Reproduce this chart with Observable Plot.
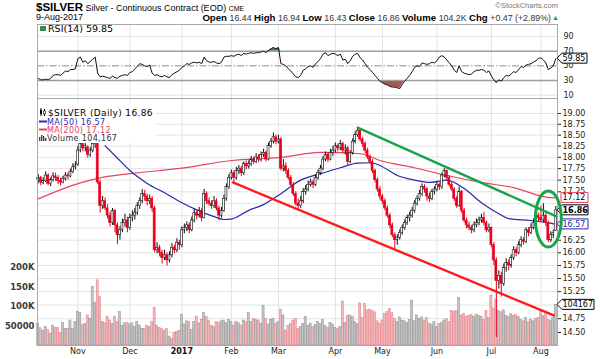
<!DOCTYPE html>
<html><head><meta charset="utf-8">
<script src="https://cdn.jsdelivr.net/npm/d3@7"></script>
<script src="https://cdn.jsdelivr.net/npm/@observablehq/plot@0.6"></script>
<style>
body{margin:0;background:#fff;}
#wrap{position:relative;width:600px;height:359px;overflow:hidden;background:#fff;}
#wrap > svg{position:absolute;left:0;display:block;}
</style></head><body><div id="wrap"></div>
<script>
// ---------- data ----------
const startDate = "2016-10-10", endDate = "2017-08-09";
const holidays = ["2016-11-24","2016-12-26","2017-01-02","2017-01-16","2017-02-20","2017-04-14","2017-05-29","2017-07-04"];
const monthLabels = ["Nov","Dec","2017","Feb","Mar","Apr","May","Jun","Jul","Aug"];
// daily [open, high, low, close]
const ohlc = [
[17.50,17.62,17.42,17.55],[17.55,17.58,17.38,17.45],[17.44,17.55,17.40,17.48],[17.48,17.68,17.45,17.60],[17.60,17.64,17.38,17.42],[17.42,17.55,17.36,17.50],[17.50,17.66,17.46,17.58],[17.58,17.65,17.48,17.55],[17.55,17.60,17.40,17.48],[17.48,17.54,17.38,17.45],
[17.45,17.58,17.42,17.52],[17.52,17.66,17.48,17.60],[17.60,17.66,17.50,17.58],[17.58,17.74,17.55,17.68],[17.68,17.86,17.64,17.78],[17.78,17.90,17.72,17.82],[17.84,18.24,17.80,18.15],[18.15,18.38,18.10,18.30],[18.30,18.36,18.12,18.20],[18.20,18.32,18.12,18.25],
[18.22,18.26,17.98,18.05],[18.05,18.22,18.00,18.15],[18.15,18.50,18.10,18.30],[18.30,18.45,18.20,18.32],[18.32,18.36,17.40,17.45],[17.45,17.50,16.80,16.95],[16.95,17.15,16.88,17.05],[17.05,17.12,16.85,16.90],[16.90,16.98,16.68,16.75],[16.75,16.82,16.52,16.60],
[16.60,16.90,16.55,16.85],[16.85,16.88,16.40,16.55],[16.55,16.60,16.16,16.35],[16.35,16.52,16.25,16.45],[16.45,16.68,16.40,16.60],[16.60,16.78,16.52,16.65],[16.65,16.72,16.40,16.50],[16.50,16.78,16.45,16.70],[16.70,16.85,16.62,16.75],[16.75,16.90,16.66,16.80],
[16.80,17.02,16.75,16.95],[16.95,17.12,16.88,17.05],[17.05,17.30,17.00,17.20],[17.20,17.28,17.05,17.15],[17.15,17.20,16.95,17.05],[17.05,17.18,16.98,17.10],[17.10,17.15,16.82,16.90],[16.90,16.95,16.00,16.05],[16.05,16.20,15.98,16.10],[16.10,16.15,15.92,16.00],
[16.00,16.05,15.78,15.90],[15.90,16.05,15.85,15.95],[15.95,16.00,15.74,15.85],[15.85,16.02,15.80,15.95],[15.95,16.18,15.90,16.10],[16.10,16.15,15.98,16.05],[16.05,16.28,16.00,16.20],[16.20,16.25,16.05,16.15],[16.15,16.52,16.10,16.45],[16.45,16.58,16.38,16.50],
[16.50,16.62,16.42,16.55],[16.55,16.60,16.38,16.45],[16.45,16.72,16.42,16.65],[16.65,16.88,16.60,16.80],[16.80,16.85,16.66,16.75],[16.75,16.92,16.70,16.85],[16.85,16.90,16.62,16.70],[16.70,17.30,16.68,17.20],[17.20,17.25,16.98,17.05],[17.05,17.12,16.95,17.00],
[17.00,17.06,16.88,16.95],[16.95,17.15,16.90,17.05],[17.05,17.10,16.85,16.90],[16.90,16.95,16.65,16.75],[16.75,16.92,16.70,16.85],[16.85,17.18,16.82,17.10],[17.10,17.42,17.05,17.35],[17.35,17.62,17.30,17.55],[17.55,17.72,17.50,17.65],[17.65,17.70,17.45,17.55],
[17.55,17.78,17.50,17.70],[17.70,17.82,17.62,17.75],[17.75,17.80,17.58,17.65],[17.65,17.90,17.60,17.85],[17.85,17.92,17.72,17.80],[17.80,17.92,17.74,17.85],[17.85,18.02,17.80,17.95],[17.95,18.00,17.84,17.90],[17.90,18.08,17.86,18.00],[18.00,18.06,17.88,17.95],
[17.95,18.12,17.90,18.05],[18.05,18.18,18.00,18.10],[18.10,18.14,17.90,17.95],[17.95,18.32,17.92,18.25],[18.25,18.42,18.20,18.35],[18.35,18.55,18.30,18.45],[18.45,18.50,18.28,18.35],[18.35,18.50,18.30,18.40],[18.40,18.45,17.70,17.75],[17.75,17.95,17.68,17.80],
[17.80,17.88,17.62,17.70],[17.70,17.75,17.50,17.55],[17.55,17.60,17.35,17.40],[17.40,17.45,17.15,17.20],[17.20,17.25,16.95,17.00],[17.00,17.10,16.86,16.95],[16.95,17.15,16.90,17.05],[17.05,17.32,17.00,17.25],[17.25,17.38,17.18,17.30],[17.30,17.48,17.25,17.40],
[17.40,17.52,17.35,17.45],[17.45,17.50,17.32,17.40],[17.40,17.62,17.36,17.55],[17.55,17.72,17.50,17.65],[17.65,17.82,17.60,17.75],[17.75,18.02,17.70,17.95],[17.95,18.12,17.90,18.05],[18.05,18.10,17.88,17.95],[17.95,18.18,17.92,18.10],[18.10,18.24,18.02,18.15],
[18.15,18.32,18.10,18.25],[18.25,18.30,18.12,18.20],[18.20,18.38,18.15,18.30],[18.30,18.34,18.08,18.15],[18.15,18.28,18.05,18.20],[18.20,18.24,17.80,17.90],[17.90,18.15,17.86,18.10],[18.10,18.42,18.05,18.35],[18.35,18.58,18.30,18.50],[18.50,18.68,18.45,18.60],
[18.60,18.62,18.35,18.40],[18.40,18.45,18.22,18.30],[18.30,18.35,18.08,18.15],[18.15,18.20,17.95,18.00],[18.00,18.05,17.84,17.90],[17.90,17.95,17.64,17.70],[17.70,17.74,17.44,17.50],[17.50,17.55,17.24,17.30],[17.30,17.36,17.08,17.15],[17.15,17.20,16.98,17.05],
[17.05,17.10,16.85,16.90],[16.90,16.95,16.70,16.75],[16.75,16.80,16.48,16.55],[16.55,16.60,16.30,16.35],[16.35,16.40,16.07,16.25],[16.25,16.36,16.15,16.30],[16.30,16.46,16.25,16.40],[16.40,16.56,16.35,16.50],[16.50,16.66,16.45,16.60],[16.60,16.76,16.55,16.70],
[16.70,16.82,16.62,16.75],[16.75,16.92,16.70,16.85],[16.85,17.06,16.80,17.00],[17.00,17.16,16.95,17.10],[17.10,17.28,17.05,17.20],[17.20,17.42,17.15,17.35],[17.35,17.40,17.22,17.30],[17.30,17.34,17.05,17.15],[17.15,17.22,17.02,17.10],[17.10,17.30,17.06,17.25],
[17.25,17.36,17.18,17.30],[17.30,17.46,17.25,17.40],[17.40,17.44,17.28,17.35],[17.35,17.65,17.30,17.60],[17.60,17.75,17.55,17.70],[17.70,17.72,17.48,17.55],[17.55,17.60,17.35,17.40],[17.40,17.45,17.25,17.30],[17.30,17.34,17.05,17.10],[17.10,17.15,16.90,16.95],
[16.95,17.35,16.92,17.25],[17.25,17.28,16.80,16.85],[16.85,16.90,16.60,16.65],[16.65,16.70,16.48,16.55],[16.55,16.62,16.44,16.50],[16.50,16.55,16.38,16.45],[16.45,16.62,16.40,16.55],[16.55,16.68,16.50,16.60],[16.60,16.72,16.54,16.65],[16.65,16.78,16.60,16.70],
[16.70,16.82,16.55,16.60],[16.60,16.64,16.40,16.45],[16.45,16.58,16.40,16.50],[16.50,16.52,16.10,16.15],[16.15,16.20,15.75,15.85],[15.85,15.90,14.41,15.45],[15.45,15.65,15.30,15.55],[15.55,15.62,15.15,15.40],[15.40,15.78,15.35,15.70],[15.70,15.88,15.62,15.80],
[15.80,15.86,15.65,15.75],[15.75,15.96,15.70,15.90],[15.90,16.12,15.85,16.05],[16.05,16.10,15.92,16.00],[16.00,16.22,15.96,16.15],[16.15,16.32,16.10,16.25],[16.25,16.30,16.15,16.22],[16.22,16.50,16.18,16.45],[16.45,16.50,16.32,16.40],[16.40,16.58,16.36,16.50],
[16.50,16.68,16.46,16.60],[16.60,16.82,16.55,16.75],[16.75,16.80,16.62,16.70],[16.70,16.95,16.62,16.65],[16.65,17.00,16.60,16.75],[16.75,16.80,16.52,16.60],[16.60,16.64,16.20,16.25],[16.25,16.42,16.20,16.35],[16.35,16.46,16.28,16.39],[16.44,16.94,16.43,16.86]
];
// daily volume, thousands of contracts
const volumeK = [
56,44,38,47,40,30,51,45,45,32, 58,43,43,64,43,60,87,83,53,55,
77,68,150,110,167,124,60,57,74,64, 56,74,60,86,51,57,57,54,57,47,
60,51,43,43,51,47,60,97,51,45, 42,38,42,23,17,32,35,38,78,54,
62,61,40,60,74,57,66,83,73,64, 51,47,60,57,62,64,57,66,60,51,
60,57,51,64,60,83,60,68,66,64, 56,102,68,54,66,68,56,60,92,77,
38,51,56,64,68,43,47,55,73,50, 56,47,52,60,55,66,50,45,58,54,
45,43,47,113,58,75,77,73,60,55, 108,70,107,90,92,88,85,62,56,64,
81,86,94,83,68,60,72,64,62,58, 66,115,62,77,68,72,64,70,56,52,
60,47,55,58,64,68,60,88,86,88, 122,77,81,73,75,78,73,79,76,74,
66,88,70,128,95,118,88,85,90,76, 73,80,75,78,73,66,62,70,60,66,
62,68,70,86,75,80,66,62,70,104.167
];
// RSI(14)
const rsi = [
33,31,31,32,31,33,37,38,38,37, 40,43,42,45,45,46,60,62,55,57,
53,56,59,62,40,35,36,35,34,33, 36,34,33,36,37,38,37,41,42,46,
49,53,52,50,49,51,40,37,38,36, 35,37,35,34,38,40,42,44,48,50,
53,52,54,55,54,55,53,62,57,55, 55,56,54,53,55,62,63,63,64,63,
65,66,64,67,66,67,68,67,68,68, 69,70,68,71,73,75,73,75,53,52,
50,46,43,39,35,34,37,44,46,49, 50,48,53,56,60,66,68,64,66,67,
66,64,66,58,59,53,57,63,66,67, 61,58,53,48,45,41,37,33,29,27,
25,24,22,21,21,20,19,25,29,33, 37,42,48,50,49,54,53,52,53,55,
54,57,62,64,62,58,54,50,44,41, 50,42,40,39,38,39,42,44,44,45,
44,41,43,36,31,27,31,29,34,37, 36,39,42,41,45,49,48,51,52,53,
55,57,60,61,58,54,45,47,50,59.85
];
// moving averages: [trading-day index, value]
const ma50 = [[27,18.26],[32,17.98],[37,17.71],[44,17.43],[51,17.23],[58,17.02],[64,16.87],[71,16.73],[75,16.67],[78,16.68],[85,16.86],[91,16.98],[98,17.21],[106,17.5],[114,17.64],[122,17.77],[129,17.87],[134,17.88],[138,17.82],[145,17.6],[152,17.5],[158,17.45],[165,17.5],[172,17.32],[179,17.02],[186,16.79],[190,16.69],[199,16.65],[206,16.6],[209,16.57]];
const ma200 = [[0,17.10],[17,17.44],[24,17.54],[37,17.64],[58,17.76],[78,17.93],[98,18.0],[114,18.11],[130,18.08],[138,17.93],[152,17.77],[165,17.6],[179,17.45],[192,17.34],[206,17.13],[209,17.12]];
// hand-drawn annotations
const trendRed = [[78.6,17.45],[208.2,14.81]];
const trendGreen = [[129,18.67],[209.5,16.73]];
const circleCenter = [206.2,16.67];
// axes
const priceTicks = [14.5,14.75,15,15.25,15.5,15.75,16,16.25,16.5,16.75,17,17.25,17.5,17.75,18,18.25,18.5,18.75,19];
const priceTickLabelsHidden = [15,16.5,16.75,17]; // covered by value tags in the picture
const rsiTicks = [10,30,50,70,90];
const volTicks = [50000,100000,150000,200000];
const volTickLabels = ["50000","100K","150K","200K"];

// ---------- derived tables ----------
const days = [];
for (let d = new Date(startDate + "T12:00:00Z"); d <= new Date(endDate + "T12:00:00Z"); d.setUTCDate(d.getUTCDate() + 1)) {
  const wd = d.getUTCDay(), s = d.toISOString().slice(0, 10);
  if (wd === 0 || wd === 6 || holidays.includes(s)) continue;
  days.push(s);
}
const monthTicks = [];
days.forEach((s, i) => { if (i > 0 && s.slice(5, 7) !== days[i - 1].slice(5, 7)) monthTicks.push({i, label: monthLabels[monthTicks.length]}); });
const monthStarts = monthTicks.map(d => d.i);

const RED = "#e8001d";
const bars = ohlc.map(([o, h, l, c], i) => {
  const prev = i ? ohlc[i - 1][3] : o;
  const down = c < prev;
  const col = down ? RED : "#111";
  return {i, o, h, l, c, v: volumeK[i] * 1000, down, col, fill: c < o ? col : "#fff"};
});
const rsiData = rsi.map((r, i) => ({i, r}));

const mL = 37, mR = 43;
const xDomain = [-0.3, 209.7];
const yDomain = [14.27, 19.355];
const FONT = "DejaVu Sans";
const wrap = d3.select("#wrap");

// ---------- header ----------
const hdr = wrap.append("svg").attr("width", 600).attr("height", 24).style("top", "0px")
  .attr("font-family", "Liberation Sans, Arial, sans-serif");
const t1 = hdr.append("text").attr("x", 36).attr("y", 10.5).attr("fill", "#000");
t1.append("tspan").attr("font-size", 11.5).attr("font-weight", "bold").text("$SILVER");
t1.append("tspan").attr("font-size", 9).text(" Silver - Continuous Contract (EOD) ");
t1.append("tspan").attr("font-size", 7).text("CME");
hdr.append("text").attr("x", 36).attr("y", 20).attr("font-size", 9).text("9-Aug-2017");
const t2 = hdr.append("text").attr("x", 551).attr("y", 20.5).attr("text-anchor", "end").attr("fill", "#222");
[["Open ", 1], ["16.44 ", 0], ["High ", 1], ["16.94 ", 0], ["Low ", 1], ["16.43 ", 0], ["Close ", 1], ["16.86 ", 0], ["Volume ", 1], ["104.2K ", 0], ["Chg ", 1], ["+0.47 (+2.89%)", 0]]
  .forEach(([s, b]) => t2.append("tspan").attr("font-weight", b ? "bold" : "normal").attr("font-size", b ? 9.6 : 8.8).attr("fill", b ? "#000" : "#333").text(s));
hdr.append("text").attr("x", 552).attr("y", 20).attr("font-size", 7).attr("fill", "#1a9a3a").text("▲");
hdr.append("text").attr("x", 558).attr("y", 8).attr("font-size", 7.5).attr("text-anchor", "end").attr("fill", "#777").text("©StockCharts.com");

// ---------- RSI panel ----------
const rsiPlot = Plot.plot({
  width: 600, height: 74, marginTop: 0, marginBottom: 0, marginLeft: mL, marginRight: mR,
  style: {background: "transparent", fontFamily: FONT, fontSize: "8px", overflow: "visible"},
  x: {domain: xDomain, axis: null},
  y: {domain: [5.5, 106.4]},
  marks: [
    Plot.ruleX(monthStarts, {stroke: "#e3e3e3"}),
    Plot.ruleY([10, 90], {stroke: "#e3e3e3"}),
    Plot.areaY(rsiData, {x: "i", y1: 70, y2: d => Math.max(d.r, 70), fill: "#3f8c4a"}),
    Plot.areaY(rsiData, {x: "i", y1: d => Math.min(d.r, 30), y2: 30, fill: "#a8564f"}),
    Plot.ruleY([70, 30], {stroke: "#9c9c9c", strokeWidth: 1.4}),
    Plot.ruleY([50], {stroke: "#8a8a8a", strokeDasharray: "7,2,1.5,2"}),
    Plot.line(rsiData, {x: "i", y: "r", stroke: "#111", strokeWidth: 1}),
    Plot.axisY(rsiTicks, {anchor: "right", tickSize: 0, tickPadding: 6, fontSize: 8, color: "#222", label: null}),
    Plot.frame({stroke: "#a8a8a8"})
  ]
});
d3.select(rsiPlot).style("top", "24px");
wrap.node().appendChild(rsiPlot);

// ---------- main panel: grid layer ----------
const common = {width: 600, height: 261, marginTop: 0, marginBottom: 14, marginLeft: mL, marginRight: mR};
const gridPlot = Plot.plot({
  ...common,
  style: {background: "#fff"},
  x: {domain: xDomain, axis: null},
  y: {type: "log", domain: yDomain, axis: null},
  marks: [
    Plot.ruleY(priceTicks, {stroke: "#e3e3e3"}),
    Plot.ruleX(monthStarts, {stroke: "#e3e3e3"})
  ]
});
d3.select(gridPlot).style("top", "98px");
wrap.node().appendChild(gridPlot);

// ---------- main panel: volume layer ----------
const volPlot = Plot.plot({
  ...common,
  style: {background: "transparent", fontFamily: FONT, fontSize: "8px", overflow: "visible"},
  color: {type: "identity"},
  x: {domain: xDomain, axis: null},
  y: {domain: [0, 633000]},
  marks: [
    Plot.rectY(bars, {x1: d => d.i - 0.42, x2: d => d.i + 0.42, y: "v",
      fill: d => d.down ? "#f4b6b9" : "#c4c4c4", stroke: d => d.down ? "#df7e85" : "#8e8e8e", strokeWidth: 0.5}),
    Plot.axisY(volTicks, {anchor: "left", tickSize: 0, tickPadding: 3, fontSize: 8.5, fontWeight: "bold", color: "#3a3a3a", label: null,
      tickFormat: d => volTickLabels[volTicks.indexOf(d)]})
  ]
});
d3.select(volPlot).style("top", "98px");
wrap.node().appendChild(volPlot);

// ---------- main panel: price layer ----------
const pricePlot = Plot.plot({
  ...common,
  style: {background: "transparent", fontFamily: FONT, fontSize: "8px", overflow: "visible"},
  color: {type: "identity"},
  x: {domain: xDomain, axis: null},
  y: {type: "log", domain: yDomain},
  marks: [
    Plot.line(ma200, {x: d => d[0], y: d => d[1], stroke: "#e8435c", strokeWidth: 1.2, curve: "monotone-x"}),
    Plot.line(ma50, {x: d => d[0], y: d => d[1], stroke: "#2a2ab0", strokeWidth: 1.2, curve: "monotone-x"}),
    Plot.ruleX(bars, {x: "i", y1: "l", y2: "h", stroke: d => d.col, strokeWidth: 1}),
    Plot.rect(bars, {x1: d => d.i - 0.4, x2: d => d.i + 0.4, y1: "o", y2: "c", fill: d => d.fill, stroke: d => d.col, strokeWidth: 0.6}),
    Plot.line(trendRed, {x: d => d[0], y: d => d[1], stroke: "#ff1a1a", strokeWidth: 2.4}),
    Plot.line(trendGreen, {x: d => d[0], y: d => d[1], stroke: "#1ba34b", strokeWidth: 2.4}),
    Plot.axisY(priceTicks.filter(t => !priceTickLabelsHidden.includes(t)), {anchor: "right", tickSize: 3, tickPadding: 2, fontSize: 8, color: "#222", label: null, tickFormat: d => d.toFixed(2)}),
    Plot.text(monthTicks.filter(d => d.label !== "2017"), {x: "i", text: "label", frameAnchor: "bottom", dy: 8, fontSize: 8, fill: "#222"}),
    Plot.text(monthTicks.filter(d => d.label === "2017"), {x: "i", text: "label", frameAnchor: "bottom", dy: 8, fontSize: 8, fontWeight: "bold", fill: "#111"}),
    Plot.frame({stroke: "#a8a8a8"})
  ]
});
d3.select(pricePlot).style("top", "98px");
wrap.node().appendChild(pricePlot);

// ---------- legend, value tags, annotation circle ----------
function tag(svgEl, y, label, {stroke = "#000", color = "#000", arrow = true, w = 26, weight = "normal"} = {}) {
  const x0 = 557, h = 10;
  const g = d3.select(svgEl).append("g").attr("text-anchor", "start");
  const d = arrow
    ? `M${x0},${y} L${x0 + 5},${y - h / 2} H${x0 + 5 + w} V${y + h / 2} H${x0 + 5} Z`
    : `M${x0 + 4},${y - h / 2} H${x0 + 5 + w} V${y + h / 2} H${x0 + 4} Z`;
  g.append("path").attr("d", d).attr("fill", "#fff").attr("stroke", stroke).attr("stroke-width", 1);
  g.append("text").attr("x", x0 + 5.5).attr("y", y).attr("dy", "0.36em").attr("font-size", 8).attr("text-anchor", "start")
    .attr("font-family", FONT).attr("font-weight", weight).attr("fill", color).text(label);
}
const xs = pricePlot.scale("x"), ys = pricePlot.scale("y"), vs = volPlot.scale("y"), rs = rsiPlot.scale("y");
const last = bars[bars.length - 1];
tag(pricePlot, ys.apply(ma200[ma200.length - 1][1]), ma200[ma200.length - 1][1].toFixed(2), {stroke: "#e8435c", arrow: false});
tag(pricePlot, ys.apply(last.c), last.c.toFixed(2), {weight: "bold"});
tag(pricePlot, ys.apply(ma50[ma50.length - 1][1]), ma50[ma50.length - 1][1].toFixed(2), {stroke: "#2a2ab0", color: "#2a2ab0"});
tag(pricePlot, vs.apply(last.v), String(Math.round(last.v)), {w: 32});
tag(rsiPlot, rs.apply(rsi[rsi.length - 1]), rsi[rsi.length - 1].toFixed(2), {w: 25});

d3.select(pricePlot).append("ellipse")
  .attr("cx", xs.apply(circleCenter[0])).attr("cy", ys.apply(circleCenter[1]))
  .attr("rx", 13).attr("ry", 28).attr("fill", "none").attr("stroke", "#1ba34b").attr("stroke-width", 3);

// main legend
const lg = d3.select(pricePlot).append("g").attr("font-family", FONT).attr("text-anchor", "start");
lg.append("rect").attr("x", 38).attr("y", 4).attr("width", 118).attr("height", 41).attr("fill", "#fff");
lg.append("line").attr("x1", 41).attr("x2", 41).attr("y1", 10).attr("y2", 18).attr("stroke", "#000");
lg.append("rect").attr("x", 40).attr("y", 12).attr("width", 2).attr("height", 4).attr("fill", "#000");
lg.append("line").attr("x1", 44.5).attr("x2", 44.5).attr("y1", 11).attr("y2", 18).attr("stroke", "#000");
lg.append("rect").attr("x", 43.5).attr("y", 13).attr("width", 2).attr("height", 3).attr("fill", "#fff").attr("stroke", "#000").attr("stroke-width", 0.6);
lg.append("text").attr("x", 48).attr("y", 17.5).attr("font-size", 9).attr("letter-spacing", 0.35).attr("fill", "#000").text("$SILVER (Daily) " + last.c.toFixed(2));
lg.append("line").attr("x1", 39).attr("x2", 47).attr("y1", 23.5).attr("y2", 23.5).attr("stroke", "#2a2ab0").attr("stroke-width", 2);
lg.append("text").attr("x", 47).attr("y", 27).attr("font-size", 8).attr("letter-spacing", 0.35).attr("fill", "#2a2ab0").text("MA(50) " + ma50[ma50.length - 1][1].toFixed(2));
lg.append("line").attr("x1", 39).attr("x2", 47).attr("y1", 31.5).attr("y2", 31.5).attr("stroke", "#e8435c").attr("stroke-width", 2);
lg.append("text").attr("x", 47).attr("y", 35).attr("font-size", 8).attr("letter-spacing", 0.35).attr("fill", "#e8435c").text("MA(200) " + ma200[ma200.length - 1][1].toFixed(2));
[[39, 4], [41, 6], [43, 5], [45, 3]].forEach(([x, h]) => lg.append("rect").attr("x", x).attr("y", 43 - h).attr("width", 1.4).attr("height", h).attr("fill", "#444"));
lg.append("text").attr("x", 47).attr("y", 43).attr("font-size", 8).attr("letter-spacing", 0.35).attr("fill", "#333").text("Volume " + d3.format(",")(Math.round(last.v)));

// RSI legend
const rl = d3.select(rsiPlot).append("g").attr("font-family", FONT).attr("text-anchor", "start");
rl.append("rect").attr("x", 40).attr("y", 2).attr("width", 6).attr("height", 5).attr("fill", "#3f8c4a");
rl.append("text").attr("x", 48).attr("y", 7.5).attr("font-size", 9.5).attr("fill", "#000").text("RSI(14) " + rsi[rsi.length - 1].toFixed(2));
</script></body></html>
